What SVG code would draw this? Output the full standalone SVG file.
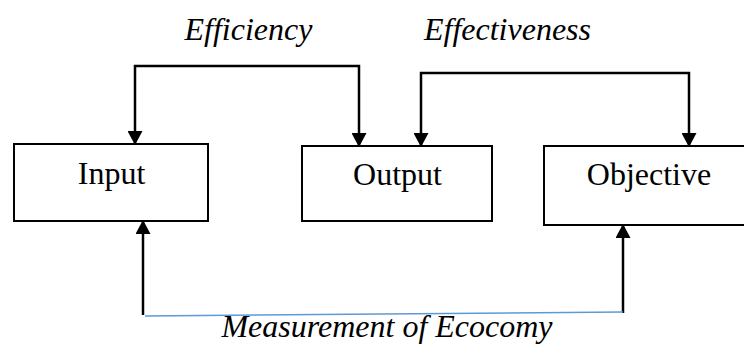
<svg xmlns="http://www.w3.org/2000/svg" width="744" height="347" viewBox="0 0 744 347">
<style>
.box{fill:#fff;stroke:#000;stroke-width:2}
.lbl{font-family:"Liberation Serif","Times New Roman",serif;font-size:32px;fill:#000;text-anchor:middle}
.it{font-family:"Liberation Serif","Times New Roman",serif;font-size:32px;font-style:italic;fill:#000;text-anchor:middle}
.con{fill:none;stroke:#000;stroke-width:2.5}
.blue{fill:none;stroke:#5b9bd5;stroke-width:1.5}
</style>
<defs>
<marker id="ah" viewBox="0 0 14 15" refX="13" refY="7.5" markerWidth="14" markerHeight="15" markerUnits="userSpaceOnUse" orient="auto-start-reverse">
<path d="M0,0 L14,7.5 L0,15 z" fill="#000"/>
</marker>
</defs>
<rect width="744" height="347" fill="#fff"/>
<g id="input"><rect class="box" x="14" y="144" width="194" height="77"/><text class="lbl" x="111.5" y="184">Input</text></g>
<g id="output"><rect class="box" x="302" y="146" width="190" height="75"/><text class="lbl" x="397.5" y="185">Output</text></g>
<g id="objective"><rect class="box" x="544" y="146" width="214" height="79"/><text class="lbl" x="649" y="185">Objective</text></g>
<g id="connectors">
<path class="con" d="M135,144 V66 H359 V146" marker-start="url(#ah)" marker-end="url(#ah)"/>
<path class="con" d="M421,146 V73 H689 V146" marker-start="url(#ah)" marker-end="url(#ah)"/>
<path class="con" d="M143,315 V221" marker-end="url(#ah)"/>
<path class="con" d="M623,313 V225" marker-end="url(#ah)"/>
<path class="blue" d="M145,316 L623,312"/>
</g>
<g id="labels">
<text class="it" x="248.5" y="40">Efficiency</text>
<text class="it" x="507.5" y="40">Effectiveness</text>
<text class="it" x="387" y="337">Measurement of Ecocomy</text>
</g>
</svg>
